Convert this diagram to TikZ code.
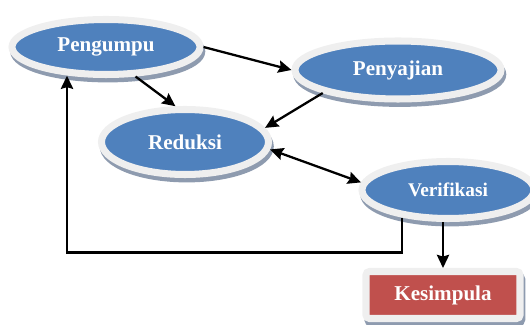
\documentclass[tikz,border=0pt]{standalone}
\usepackage{fontspec}
\setmainfont{Liberation Serif}
\usetikzlibrary{shapes, arrows.meta, shadows, calc}
\definecolor{phaseblue}{HTML}{4F81BD}
\definecolor{phasered}{HTML}{C0504D}
\definecolor{phaserim}{HTML}{EFEFEF}
\definecolor{phaseshadow}{HTML}{8E9BAF}
\tikzset{
    phase/.style={
        ellipse,
        draw=phaserim,
        line width=4pt,
        fill=phaseblue,
        text=white,
        inner sep=0pt,
        font=\fontsize{12}{14}\selectfont\bfseries,
        drop shadow={shadow xshift=1pt, shadow yshift=-2.5pt, draw=phaseshadow, fill=phaseshadow, opacity=1},
    },
    result/.style={
        rectangle,
        rounded corners=2pt,
        draw=phaserim,
        line width=4pt,
        fill=phasered,
        text=white,
        inner sep=0pt,
        font=\fontsize{12}{14}\selectfont\bfseries,
        drop shadow={shadow xshift=1pt, shadow yshift=-2.5pt, draw=phaseshadow, fill=phaseshadow, opacity=1},
    },
    flow/.style={
        line width=1.3pt,
    },
}

\begin{document}
\begin{tikzpicture}[>={Stealth[length=7.5pt,width=7pt,inset=1pt]}]
      \useasboundingbox (0,0) rectangle (10.6,6.5);

      \node [phase, minimum width=3.76cm, minimum height=1.10cm] (pengumpu) at (2.12,5.56) {Pengumpu};
      \node [phase, minimum width=4.12cm, minimum height=1.16cm] (penyajian) at (7.96,5.10) {Penyajian};
      \node [phase, minimum width=3.34cm, minimum height=1.30cm] (reduksi) at (3.70,3.66) {Reduksi};
      \node [phase, minimum width=3.44cm, minimum height=1.14cm, font=\fontsize{11}{13}\selectfont\bfseries] (verifikasi) at (8.96,2.70) {Verifikasi};
      \node [result, minimum width=3.08cm, minimum height=0.94cm] (kesimpula) at (8.86,0.60) {Kesimpula};
      \coordinate (loopcorner) at (1.34,1.45);

      \draw[flow, ->] (pengumpu.east) -- (penyajian.west);
      \draw[flow, ->] (pengumpu.-45) -- (reduksi.105);
      \draw[flow, ->] (penyajian.197) -- (reduksi.10);
      \draw[flow, <->] (reduksi.-5) -- (verifikasi.175);
      \draw[flow, ->] (verifikasi.south -| kesimpula.north) -- (kesimpula.north);
      \draw[flow, ->] (verifikasi.211) |- (loopcorner) -- (loopcorner |- pengumpu.218);
    \end{tikzpicture}
\end{document}
